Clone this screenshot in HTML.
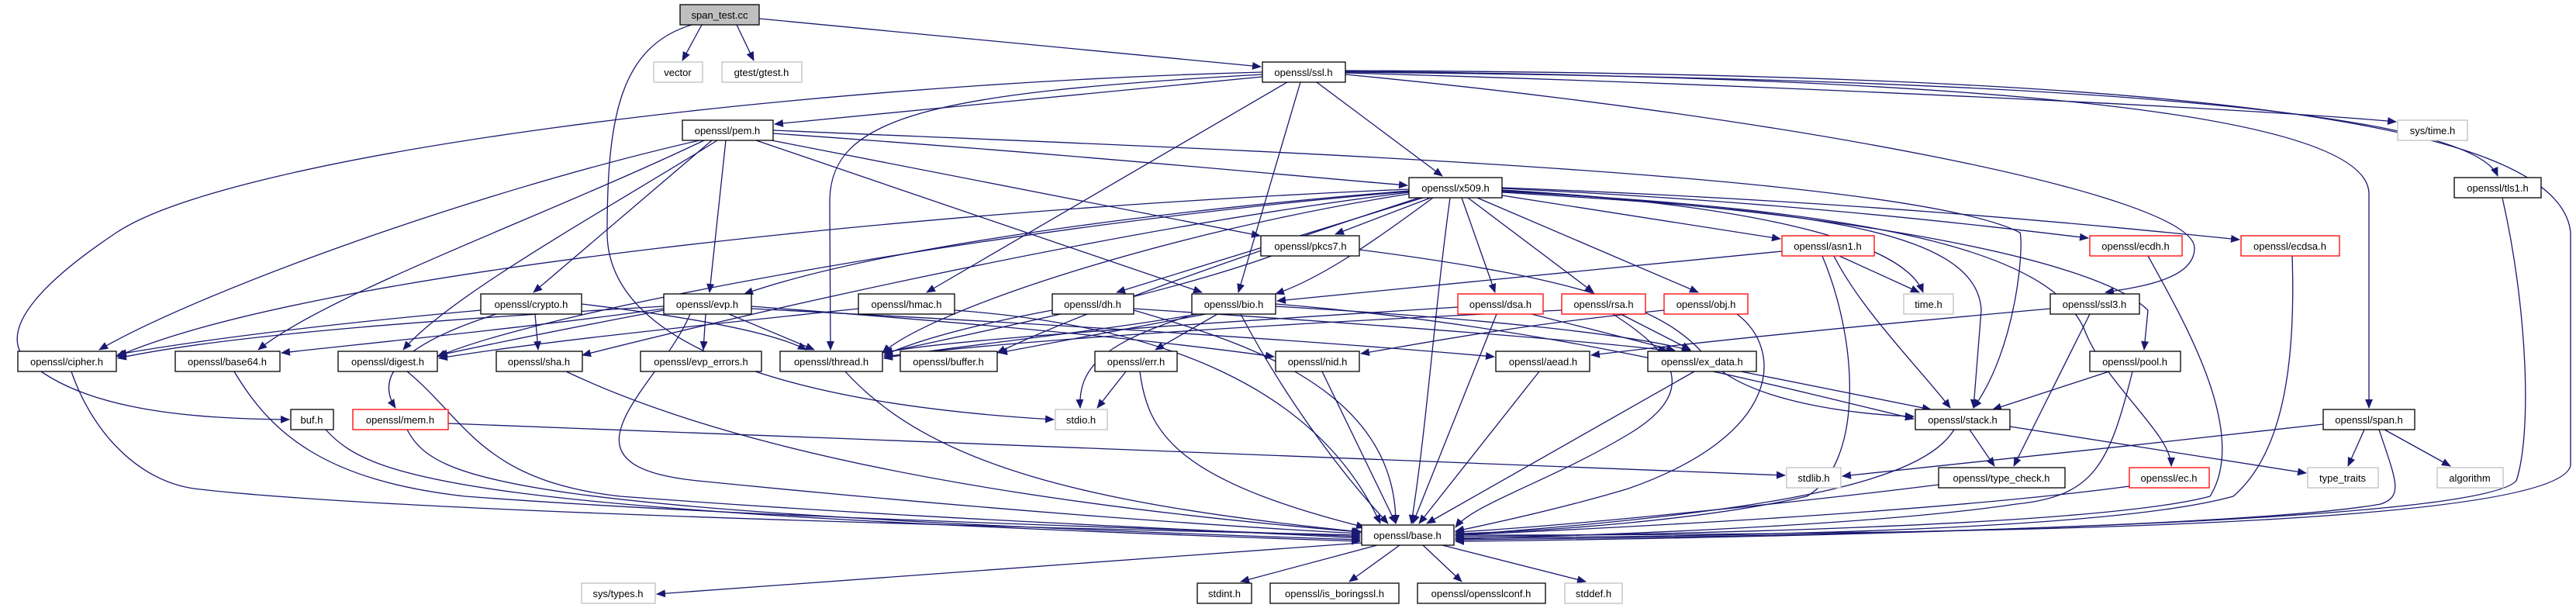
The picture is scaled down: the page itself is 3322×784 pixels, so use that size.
<!DOCTYPE html>
<html><head><meta charset="utf-8"><style>
html,body{margin:0;padding:0;background:#fff;}
svg{display:block;}
text{font-family:"Liberation Sans",sans-serif;font-size:13px;fill:#000;}
.e{fill:none;stroke:#191970;stroke-width:1.3;marker-end:url(#a);}
.n{fill:#fff;stroke:#000;stroke-width:1.3;}
.g{fill:#fff;stroke:#bfbfbf;stroke-width:1.3;}
.r{fill:#fff;stroke:#ff0000;stroke-width:1.3;}
</style></head><body>
<svg width="3322" height="784" viewBox="0 0 3322 784" xmlns="http://www.w3.org/2000/svg">
<defs><marker id="a" markerUnits="userSpaceOnUse" markerWidth="12" markerHeight="10" refX="11" refY="5" orient="auto"><path d="M0,0 L12,5 L0,10 z" fill="#191970"/></marker></defs>
<g>
<path class="e" d="M905,32 L880,78"/>
<path class="e" d="M950,32 L972,78"/>
<path class="e" d="M979,24 L1626,86"/>
<path class="e" d="M892,32 C800,60 783,150 783,300 C783,440 1000,520 1359,541"/>
<path class="e" d="M1628,99 C1300,130 1100,150 999,160"/>
<path class="e" d="M1628,93 C1000,110 300,200 150,300 C60,360 0,420 30,460 C100,530 250,540 373,541"/>
<path class="e" d="M1628,96 C1200,120 1070,150 1070,260 L1071,451"/>
<path class="e" d="M1660,106 L1195,377"/>
<path class="e" d="M1677,106 L1597,377"/>
<path class="e" d="M1698,106 L1860,227"/>
<path class="e" d="M1735,96 C2300,150 2830,250 2830,320 C2830,360 2760,370 2715,377"/>
<path class="e" d="M1735,94 C2300,110 2900,140 3090,157"/>
<path class="e" d="M1735,93 C2500,100 3180,130 3221,227"/>
<path class="e" d="M1735,92 C2600,100 3055,150 3055,250 L3055,526"/>
<path class="e" d="M1735,91 C2700,95 3300,140 3315,300 L3315,600 C3300,680 2500,690 1877,690"/>
<path class="e" d="M997,172 C1400,200 1700,230 1815,239"/>
<path class="e" d="M936,181 L915,377"/>
<path class="e" d="M918,181 L688,377"/>
<path class="e" d="M902,181 C600,250 250,380 128,451"/>
<path class="e" d="M908,181 C700,280 420,380 333,451"/>
<path class="e" d="M925,181 C800,260 580,380 520,451"/>
<path class="e" d="M975,181 L1550,377"/>
<path class="e" d="M995,181 L1625,304"/>
<path class="e" d="M997,168 C1500,190 2450,220 2605,300 C2610,320 2600,450 2545,526"/>
<path class="e" d="M1845,255 L1722,302"/>
<path class="e" d="M1937,252 L2296,308"/>
<path class="e" d="M1885,255 L1928,377"/>
<path class="e" d="M1893,255 L2055,377"/>
<path class="e" d="M1905,255 L2190,377"/>
<path class="e" d="M1937,245 C2200,260 2450,300 2480,377"/>
<path class="e" d="M1937,243 C2300,260 2550,290 2693,307"/>
<path class="e" d="M1937,242 C2400,260 2700,290 2888,309"/>
<path class="e" d="M1937,248 C2300,270 2550,290 2555,400 L2545,526"/>
<path class="e" d="M1937,247 C2400,270 2650,320 2690,430 C2720,500 2800,560 2800,601"/>
<path class="e" d="M1937,246 C2350,270 2700,330 2770,400 L2765,451"/>
<path class="e" d="M1870,255 C1850,400 1840,550 1820,675"/>
<path class="e" d="M1848,255 C1760,320 1700,360 1645,379"/>
<path class="e" d="M1835,255 L1440,377"/>
<path class="e" d="M1817,246 C1400,280 1100,330 960,379"/>
<path class="e" d="M1817,244 C1200,270 400,350 150,460"/>
<path class="e" d="M1817,250 C1500,300 1200,400 1138,455"/>
<path class="e" d="M1817,248 C1400,300 900,420 751,458"/>
<path class="e" d="M1817,247 C1300,290 700,400 564,460"/>
<path class="e" d="M1830,255 C1600,330 1400,400 1286,455"/>
<path class="e" d="M1753,322 C2050,360 2150,400 2200,460 C2250,520 2400,535 2468,537"/>
<path class="e" d="M1640,330 C1500,380 1300,420 1140,455"/>
<path class="e" d="M2298,324 L1647,388"/>
<path class="e" d="M2372,330 L2475,377"/>
<path class="e" d="M2365,330 C2400,400 2480,480 2515,526"/>
<path class="e" d="M2350,330 C2400,450 2400,600 2330,640 C2200,670 2000,685 1877,688"/>
<path class="e" d="M2770,330 C2820,420 2900,560 2850,640 C2700,680 2100,690 1877,692"/>
<path class="e" d="M2956,330 C2960,450 2950,580 2880,640 C2700,690 2100,692 1877,694"/>
<path class="e" d="M3227,255 C3260,400 3265,560 3245,620 C3200,670 2500,690 1877,696"/>
<path class="e" d="M640,405 C530,440 480,480 510,526"/>
<path class="e" d="M690,405 L694,451"/>
<path class="e" d="M750,392 C900,410 1000,430 1040,451"/>
<path class="e" d="M620,400 C400,420 250,440 152,457"/>
<path class="e" d="M910,405 L907,451"/>
<path class="e" d="M940,405 L1050,451"/>
<path class="e" d="M856,395 C600,410 300,430 152,462"/>
<path class="e" d="M856,398 C700,420 500,440 363,455"/>
<path class="e" d="M856,400 C750,420 650,440 566,458"/>
<path class="e" d="M890,405 C850,500 700,600 900,620 C1300,660 1600,680 1754,688"/>
<path class="e" d="M969,395 C1300,420 1500,440 1643,460"/>
<path class="e" d="M969,398 C1400,420 1700,440 1927,460"/>
<path class="e" d="M1107,398 C900,420 700,440 566,462"/>
<path class="e" d="M1231,400 C1500,420 1700,500 1780,675"/>
<path class="e" d="M1357,400 C1250,420 1180,440 1140,458"/>
<path class="e" d="M1462,400 C1600,440 1800,500 1800,675"/>
<path class="e" d="M1462,398 C1800,420 2050,440 2150,452"/>
<path class="e" d="M1545,405 C1400,430 1200,450 1140,462"/>
<path class="e" d="M1555,405 L1288,455"/>
<path class="e" d="M1570,405 L1490,451"/>
<path class="e" d="M1540,405 C1430,440 1390,470 1393,526"/>
<path class="e" d="M1600,405 C1650,500 1720,600 1790,675"/>
<path class="e" d="M1645,395 C1900,410 2100,430 2180,452"/>
<path class="e" d="M1645,392 C2000,420 2300,500 2468,540"/>
<path class="e" d="M1880,396 C1500,420 1200,440 1140,455"/>
<path class="e" d="M1930,405 L1822,675"/>
<path class="e" d="M1975,405 L2160,452"/>
<path class="e" d="M2014,400 C1600,420 1300,440 1140,460"/>
<path class="e" d="M2080,405 C2150,450 2200,500 2100,560 C2000,620 1900,650 1877,680"/>
<path class="e" d="M2090,405 L2180,451"/>
<path class="e" d="M2146,400 C1950,420 1850,440 1755,456"/>
<path class="e" d="M2240,405 C2300,450 2300,560 2100,630 C2000,660 1900,680 1877,685"/>
<path class="e" d="M1452,479 L1415,526"/>
<path class="e" d="M1470,479 C1480,560 1520,620 1760,680"/>
<path class="e" d="M1090,479 C1200,600 1400,650 1756,686"/>
<path class="e" d="M92,479 C120,560 180,620 250,630 C500,660 1300,680 1754,690"/>
<path class="e" d="M302,479 C350,560 420,620 600,640 C1000,670 1500,680 1754,692"/>
<path class="e" d="M525,479 C600,540 620,620 800,640 C1200,670 1500,680 1754,694"/>
<path class="e" d="M730,479 C900,560 1200,640 1754,686"/>
<path class="e" d="M525,554 C560,620 650,660 1754,696"/>
<path class="e" d="M578,546 C1200,570 2000,600 2302,613"/>
<path class="e" d="M420,554 C480,620 600,660 1754,698"/>
<path class="e" d="M1705,479 L1800,675"/>
<path class="e" d="M1985,479 L1830,675"/>
<path class="e" d="M2185,479 L1840,675"/>
<path class="e" d="M2245,479 L2490,528"/>
<path class="e" d="M2720,479 L2570,528"/>
<path class="e" d="M2750,479 C2720,600 2700,640 2600,650 C2400,680 2000,692 1877,695"/>
<path class="e" d="M2644,398 C2400,420 2200,440 2052,458"/>
<path class="e" d="M2695,405 L2597,601"/>
<path class="e" d="M2540,554 L2572,601"/>
<path class="e" d="M2520,554 C2480,620 2300,660 1877,690"/>
<path class="e" d="M2592,550 L2974,610"/>
<path class="e" d="M2500,625 C2300,650 2000,680 1877,686"/>
<path class="e" d="M3049,554 L3028,601"/>
<path class="e" d="M3075,554 L3160,601"/>
<path class="e" d="M2996,547 C2800,570 2500,600 2376,614"/>
<path class="e" d="M3068,554 C3090,620 3100,640 3070,650 C2900,680 2200,695 1877,698"/>
<path class="e" d="M2746,627 C2500,660 2100,680 1877,690"/>
<path class="e" d="M1756,700 L847,766"/>
<path class="e" d="M1776,703 L1600,750"/>
<path class="e" d="M1805,703 L1740,750"/>
<path class="e" d="M1835,703 L1885,750"/>
<path class="e" d="M1860,703 L2045,750"/>
</g>
<g text-anchor="middle">
<rect x="877" y="6" width="102" height="26" fill="#bfbfbf" stroke="#000" stroke-width="1.3"/><text x="928" y="24">span_test.cc</text>
<rect class="g" x="843" y="80" width="63" height="26"/><text x="874" y="98">vector</text>
<rect class="g" x="931" y="80" width="103" height="26"/><text x="982" y="98">gtest/gtest.h</text>
<rect class="n" x="1628" y="80" width="107" height="26"/><text x="1681" y="98">openssl/ssl.h</text>
<rect class="n" x="880" y="155" width="117" height="26"/><text x="938" y="173">openssl/pem.h</text>
<rect class="g" x="3092" y="155" width="90" height="26"/><text x="3137" y="173">sys/time.h</text>
<rect class="n" x="1817" y="229" width="120" height="26"/><text x="1877" y="247">openssl/x509.h</text>
<rect class="n" x="3165" y="229" width="112" height="26"/><text x="3221" y="247">openssl/tls1.h</text>
<rect class="n" x="1626" y="304" width="127" height="26"/><text x="1690" y="322">openssl/pkcs7.h</text>
<rect class="r" x="2298" y="304" width="119" height="26"/><text x="2357" y="322">openssl/asn1.h</text>
<rect class="r" x="2695" y="304" width="119" height="26"/><text x="2754" y="322">openssl/ecdh.h</text>
<rect class="r" x="2890" y="304" width="127" height="26"/><text x="2953" y="322">openssl/ecdsa.h</text>
<rect class="n" x="620" y="379" width="130" height="26"/><text x="685" y="397">openssl/crypto.h</text>
<rect class="n" x="856" y="379" width="113" height="26"/><text x="912" y="397">openssl/evp.h</text>
<rect class="n" x="1107" y="379" width="124" height="26"/><text x="1169" y="397">openssl/hmac.h</text>
<rect class="n" x="1357" y="379" width="105" height="26"/><text x="1409" y="397">openssl/dh.h</text>
<rect class="n" x="1537" y="379" width="108" height="26"/><text x="1591" y="397">openssl/bio.h</text>
<rect class="r" x="1880" y="379" width="110" height="26"/><text x="1935" y="397">openssl/dsa.h</text>
<rect class="r" x="2014" y="379" width="108" height="26"/><text x="2068" y="397">openssl/rsa.h</text>
<rect class="r" x="2146" y="379" width="108" height="26"/><text x="2200" y="397">openssl/obj.h</text>
<rect class="g" x="2455" y="379" width="64" height="26"/><text x="2487" y="397">time.h</text>
<rect class="n" x="2644" y="379" width="115" height="26"/><text x="2701" y="397">openssl/ssl3.h</text>
<rect class="n" x="23" y="453" width="127" height="26"/><text x="86" y="471">openssl/cipher.h</text>
<rect class="n" x="226" y="453" width="135" height="26"/><text x="293" y="471">openssl/base64.h</text>
<rect class="n" x="436" y="453" width="128" height="26"/><text x="500" y="471">openssl/digest.h</text>
<rect class="n" x="640" y="453" width="111" height="26"/><text x="695" y="471">openssl/sha.h</text>
<rect class="n" x="826" y="453" width="156" height="26"/><text x="904" y="471">openssl/evp_errors.h</text>
<rect class="n" x="1006" y="453" width="132" height="26"/><text x="1072" y="471">openssl/thread.h</text>
<rect class="n" x="1161" y="453" width="125" height="26"/><text x="1223" y="471">openssl/buffer.h</text>
<rect class="n" x="1412" y="453" width="106" height="26"/><text x="1465" y="471">openssl/err.h</text>
<rect class="n" x="1645" y="453" width="108" height="26"/><text x="1699" y="471">openssl/nid.h</text>
<rect class="n" x="1929" y="453" width="121" height="26"/><text x="1990" y="471">openssl/aead.h</text>
<rect class="n" x="2125" y="453" width="140" height="26"/><text x="2195" y="471">openssl/ex_data.h</text>
<rect class="n" x="2695" y="453" width="117" height="26"/><text x="2753" y="471">openssl/pool.h</text>
<rect class="n" x="375" y="528" width="55" height="26"/><text x="402" y="546">buf.h</text>
<rect class="r" x="455" y="528" width="123" height="26"/><text x="516" y="546">openssl/mem.h</text>
<rect class="g" x="1361" y="528" width="67" height="26"/><text x="1394" y="546">stdio.h</text>
<rect class="n" x="2470" y="528" width="122" height="26"/><text x="2531" y="546">openssl/stack.h</text>
<rect class="n" x="2996" y="528" width="118" height="26"/><text x="3055" y="546">openssl/span.h</text>
<rect class="n" x="2500" y="603" width="163" height="26"/><text x="2581" y="621">openssl/type_check.h</text>
<rect class="g" x="2304" y="603" width="70" height="26"/><text x="2339" y="621">stdlib.h</text>
<rect class="r" x="2746" y="603" width="103" height="26"/><text x="2797" y="621">openssl/ec.h</text>
<rect class="g" x="2976" y="603" width="91" height="26"/><text x="3021" y="621">type_traits</text>
<rect class="g" x="3143" y="603" width="85" height="26"/><text x="3185" y="621">algorithm</text>
<rect class="n" x="1756" y="677" width="119" height="26"/><text x="1815" y="695">openssl/base.h</text>
<rect class="g" x="750" y="752" width="95" height="26"/><text x="797" y="770">sys/types.h</text>
<rect class="n" x="1544" y="752" width="70" height="26"/><text x="1579" y="770">stdint.h</text>
<rect class="n" x="1638" y="752" width="166" height="26"/><text x="1721" y="770">openssl/is_boringssl.h</text>
<rect class="n" x="1828" y="752" width="165" height="26"/><text x="1910" y="770">openssl/opensslconf.h</text>
<rect class="g" x="2018" y="752" width="74" height="26"/><text x="2055" y="770">stddef.h</text>
</g>
</svg>
</body></html>
